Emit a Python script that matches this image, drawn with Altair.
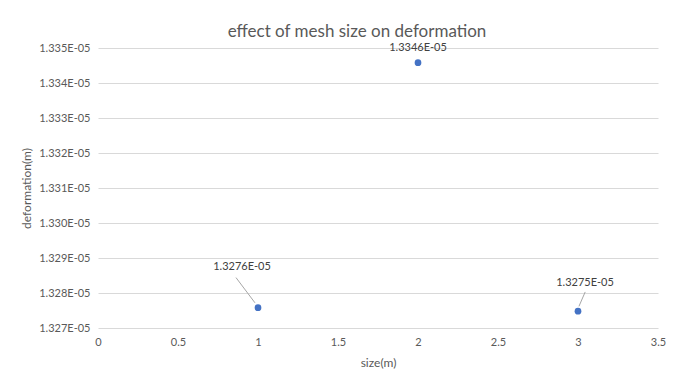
import altair as alt
import pandas as pd

sizes = [1, 2, 3]
deformation = [1.32758e-5, 1.33458e-5, 1.32748e-5]
labels = ["1.3276E-05", "1.3346E-05", "1.3275E-05"]
x_ticks = [0, 0.5, 1, 1.5, 2, 2.5, 3, 3.5]
y_ticks = [1.327e-5, 1.328e-5, 1.329e-5, 1.330e-5, 1.331e-5, 1.332e-5, 1.333e-5, 1.334e-5, 1.335e-5]

df = pd.DataFrame({"size": sizes, "deformation": deformation, "label": labels})

FONT = "Lato"
GRID = "#D9D9D9"
TXT = "#595959"

x_enc = alt.X(
    "size:Q",
    scale=alt.Scale(domain=[0, 3.5], nice=False, zero=False),
    axis=alt.Axis(
        values=x_ticks, tickCount=20, format="~g", title="size(m)", grid=False, domain=False,
        ticks=False, labelPadding=8, labelFlush=False, labelOverlap=False,
        labelFont=FONT, labelFontSize=11,
        labelColor=TXT, titleFont=FONT, titleFontSize=12, titleColor=TXT,
        titleFontWeight="normal", titlePadding=10,
    ),
)
y_enc = alt.Y(
    "deformation:Q",
    scale=alt.Scale(domain=[1.327e-5, 1.335e-5], nice=False, zero=False),
    axis=alt.Axis(
        values=y_ticks, tickCount=20,
        labelExpr="replace(format(datum.value, '.3e'), 'e-', 'E-0')",
        title="deformation(m)", grid=True, gridColor=GRID, domain=False,
        ticks=False, labelPadding=8, labelFlush=False, labelOverlap=False,
        labelFont=FONT, labelFontSize=11,
        labelColor=TXT, titleFont=FONT, titleFontSize=12, titleColor=TXT,
        titleFontWeight="normal", titlePadding=5,
    ),
)

base = alt.Chart(df)

points = base.mark_point(filled=True, size=45, color="#4472C4", opacity=1).encode(
    x=x_enc, y=y_enc
)

def label_layer(sz, dx, dy):
    return base.transform_filter(f"datum.size == {sz}").mark_text(
        font=FONT, fontSize=11, color="#404040", dx=dx, dy=dy
    ).encode(x="size:Q", y="deformation:Q", text="label:N")

t1 = label_layer(1, -16, -41)
t2 = label_layer(2, 0, -15)
t3 = label_layer(3, 7, -28)

lead1 = base.transform_filter("datum.size == 1").transform_calculate(
    xs="datum.size - 0.019", ys="datum.deformation + 0.14e-8",
    xe="datum.size - 0.1375", ye="datum.deformation + 0.86e-8",
).mark_rule(color="#A6A6A6", strokeWidth=1).encode(
    x="xs:Q", y="ys:Q", x2="xe:Q", y2="ye:Q"
)
lead3 = base.transform_filter("datum.size == 3").transform_calculate(
    xs="datum.size + 0.006", ys="datum.deformation + 0.14e-8",
    xe="datum.size + 0.045", ye="datum.deformation + 0.55e-8",
).mark_rule(color="#A6A6A6", strokeWidth=1).encode(
    x="xs:Q", y="ys:Q", x2="xe:Q", y2="ye:Q"
)

chart = alt.layer(lead1, lead3, points, t1, t2, t3).properties(
    width=560,
    height=280,
    title=alt.TitleParams(
        "effect of mesh size on deformation", font=FONT, fontSize=17,
        fontWeight="normal", color=TXT, anchor="middle", dx=-21, offset=1,
    ),
    autosize=alt.AutoSizeParams(type="none"),
    padding={"left": 90, "top": 40, "right": 13, "bottom": 52},
).configure_view(stroke=None)

chart.save("out.html", embed_options={"renderer": "svg", "actions": False})
